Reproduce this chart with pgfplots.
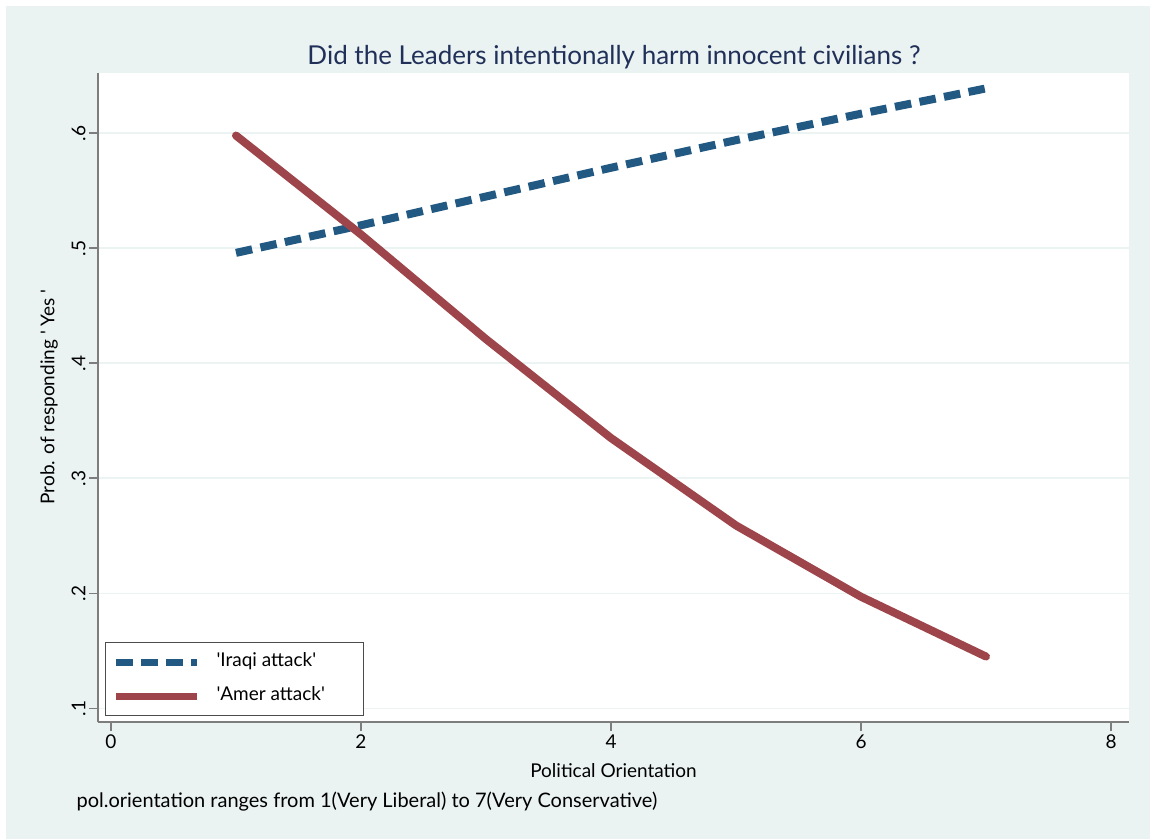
\documentclass[border=0pt]{standalone}
\usepackage{fontspec}
\setmainfont{Lato}
\usepackage{pgfplots}
\pgfplotsset{compat=1.18}

\definecolor{bgpanel}{RGB}{234,242,242}
\definecolor{iraqblue}{RGB}{33,89,130}
\definecolor{amerred}{RGB}{158,69,75}
\definecolor{titlenavy}{RGB}{32,48,88}
\definecolor{gridc}{RGB}{236,243,243}
\definecolor{axisgray}{RGB}{125,125,125}

\newcommand{\lblfont}{\fontsize{19}{22}\selectfont}
\newcommand{\sq}{\textquotesingle}

\begin{document}
\begin{tikzpicture}[x=1pt,y=1pt]
% outer graph region
\fill[white] (0pt,0pt) rectangle (1150pt,839pt);
\fill[bgpanel] (6pt,0pt) rectangle (1150pt,833pt);

\begin{axis}[
  at={(98pt,117pt)}, anchor=south west,
  scale only axis, width=1031pt, height=649pt,
  xmin=-0.104, xmax=8.144, ymin=0.0881, ymax=0.6524,
  axis background/.style={fill=white},
  axis x line*=bottom, axis y line*=left,
  axis line style={axisgray, line width=1.6pt, -},
  xtick={0,2,4,6,8},
  ytick={0.1,0.2,0.3,0.4,0.5,0.6},
  yticklabels={.1,.2,.3,.4,.5,.6},
  /pgf/number format/assume math mode=true,
  tick align=outside, major tick length=9pt,
  tick style={axisgray, line width=1.6pt},
  ymajorgrids, grid style={gridc, line width=1.6pt},
  ticklabel style={font=\fontsize{19}{22}\selectfont, text=black},
  yticklabel style={rotate=90, anchor=south},
  xticklabel style={anchor=north},
  legend style={at={(axis description cs:0.0068,0.0092)}, anchor=south west,
    draw=black!70, line width=1pt, fill=white,
    font=\lblfont,
    inner xsep=7pt, inner ysep=10pt, row sep=15pt, column sep=16pt,
    nodes={inner sep=0pt, font=\lblfont, text height=14pt, text depth=5pt},
    cells={anchor=west}},
  legend image code/.code={\draw[#1, line width=7pt, line cap=butt] (0pt,0pt) -- (81pt,0pt);},
]
\addplot[iraqblue, line width=8pt, dash pattern=on 16.5pt off 8.5pt]
  coordinates {(1,0.496) (2,0.520) (3,0.545) (4,0.570) (5,0.594) (6,0.617) (7,0.639)};
\addlegendentry{\sq Iraqi attack\sq}
\addplot[amerred, line width=8pt, line cap=round, line join=round]
  coordinates {(1,0.598) (2,0.512) (3,0.421) (4,0.335) (5,0.259) (6,0.197) (7,0.145)};
\addlegendentry{\sq Amer attack\sq\hspace*{31pt}}
\end{axis}

% titles and notes
\node[anchor=base, text=titlenavy, font=\fontsize{26}{30}\selectfont]
  at (614pt,774pt) {Did the Leaders intentionally harm innocent civilians ?};
\node[anchor=base, font=\lblfont] at (613.5pt,62pt) {Political Orientation};
\node[anchor=base west, font=\fontsize{20}{23}\selectfont] at (73pt,32pt)
  {pol.orientation ranges from 1(Very Liberal) to 7(Very Conservative)};
\node[rotate=90, font=\lblfont] at (49pt,442pt) {Prob. of responding \sq{} Yes \sq};
\end{tikzpicture}
\end{document}
